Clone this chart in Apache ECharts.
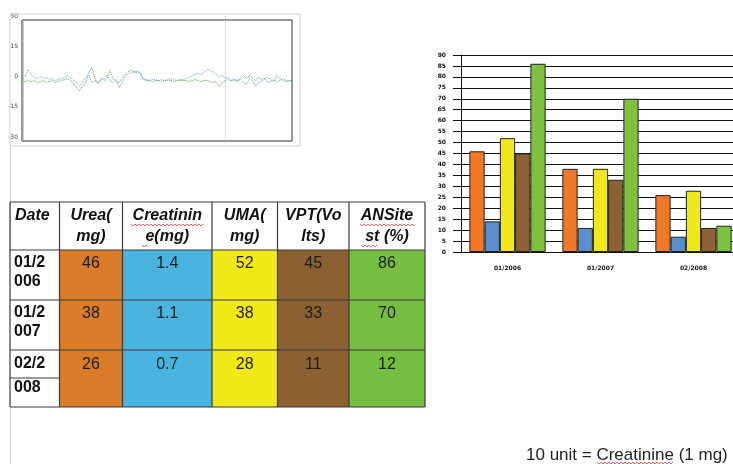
<!DOCTYPE html>
<html>
<head>
<meta charset="utf-8">
<script src="https://cdn.jsdelivr.net/npm/echarts@6/dist/echarts.min.js"></script>
<style>
html, body { margin: 0; padding: 0; background: #fff; }
#main { width: 733px; height: 464px; }
</style>
</head>
<body>
<div id="main"></div>
<script>
// table / bar data
var dates = ['01/2006', '01/2007', '02/2008'];
var urea = [46, 38, 26];
var creatinine = [1.4, 1.1, 0.7];
var uma = [52, 38, 28];
var vpt = [45, 33, 11];
var ansitest = [86, 70, 12];
var creatUnit = 10; // 10 unit = Creatinine (1 mg)
var headers = [['Date'], ['Urea(', 'mg)'], ['Creatinin', 'e(mg)'], ['UMA(', 'mg)'], ['VPT(Vo', 'lts)'], ['ANSite', 'st (%)']];
var barTicks = [0, 90, 5];

// small trace (top left), read point by point
var traceBlue = [
    -1, 0, 3.5, 1, -0.5, -1, 0, -1, -0.5, -1.5,
    -1, -2, -1.5, -1, -0.5, 0.5, -0.5, -2, -3, -4.5,
    -3, -0.5, 1, -3, -2, -3, -2, -1, 1, -2,
    -3, -1.5, -5.5, -3, 0, 1, 2, 2.5, 2, 1.5,
    -1.5, -1.5, -2, -1.5, -1.5, -2, -1.5, -2, -1.5, -1,
    -1.5, -2, -1.5, -1.5, -1, -0.5, 0.5, 1, 1.5, 1,
    2, 3.5, 3, 2, 1, 0, 0.5, -1, -0.5, -2,
    -1.5, -2, -1, -3, -4, -1, -2, -5, -3, -2.5,
    -1, -3, -2.5, -1.5, -3, -2, -1, -2, -2.5, -2
];
var traceGreen = [
    -2, -2.5, -2, -2.5, -2, -3, -2.5, -2, -3, -2.5,
    -2, -3, -2.5, -2, -1.5, -1, -2, -3.5, -5.5, -7,
    -5, -3, 2, 4.5, -1, -3.5, -1, -2, -1, 3,
    -1, -2.5, -3, -1, 1, 2.5, 3, 2, 2.5, 2,
    -1.5, -2, -2, -2.5, -2, -2, -2.5, -2, -2, -2,
    -2.5, -2, -2, -2, -2, -2.5, -2, -1.5, -2, -2.5,
    -2, -2, -2.5, -3, -2.5, -5, -3, -2, -1.5, -2,
    -1.5, -2.5, -1, 0.5, -1, 0.5, -1, -2, -0.5, -1.5,
    -1, -0.5, -1.5, -2.5, 0.5, -1, -2, -2.5, -2, -2
];
var traceTicks = [-30, 30, 15];
var markerIndex = 67;

var tableFill = ['#ffffff', '#DA7B27', '#48B4DF', '#F1E817', '#8C6131', '#76BE41'];
var barColor = ['#F07828', '#5A8ECE', '#F0E818', '#8C6235', '#7DC23F'];

var traceX = [];
for (var i = 0; i < traceBlue.length; i++) traceX.push(i);

var creatUnits = creatinine.map(function (v) { return Math.round(v * creatUnit); });
var barSets = [urea, creatUnits, uma, vpt, ansitest];

// ---- table drawn with graphic elements ----
var colX = [10, 59.5, 122.5, 212, 277.5, 349, 425];
var rowY = [202, 250, 300, 350, 407];
var headLineY = [216, 237];
var dateLineY = [[263, 282], [313, 332], [364, 388]];
var valueCols = [urea, creatinine, uma, vpt, ansitest];
var fontHead = 'italic bold 16px "Liberation Sans", Arial, sans-serif';
var fontDate = 'bold 16px "Liberation Sans", Arial, sans-serif';
var fontCell = '16px "Liberation Sans", Arial, sans-serif';

function squiggle(x0, x1, y) {
    var pts = [];
    for (var x = x0, k = 0; x <= x1; x += 2, k++) {
        pts.push([x, y + (k % 2 ? 1 : -1)]);
    }
    return {
        type: 'polyline', silent: true, z: 20,
        shape: { points: pts },
        style: { stroke: '#e23b3b', lineWidth: 0.8, fill: null }
    };
}

var els = [];
// page frame of the small trace, margin line
els.push({ type: 'rect', silent: true, z: 1, shape: { x: 10, y: 14, width: 290, height: 132 },
    style: { fill: null, stroke: '#cfcfcf', lineWidth: 1 } });
els.push({ type: 'line', silent: true, z: 1, shape: { x1: 10.5, y1: 146, x2: 10.5, y2: 464 },
    style: { stroke: '#d0d0d0', lineWidth: 1 } });
els.push({ type: 'rect', silent: true, z: 5, shape: { x: 22, y: 20, width: 270, height: 121 },
    style: { fill: null, stroke: '#333', lineWidth: 1 } });
els.push({ type: 'line', silent: true, z: 5, shape: { x1: 22.5, y1: 20, x2: 22.5, y2: 141 },
    style: { stroke: '#9a9a9a', lineWidth: 2 } });

// header row
for (var c = 0; c < headers.length; c++) {
    var x = c === 0 ? colX[0] + 5 : (colX[c] + colX[c + 1]) / 2;
    headers[c].forEach(function (t, li) {
        els.push({ type: 'text', silent: true, z: 10,
            style: { text: t, x: x, y: headLineY[li], font: fontHead, fill: '#111',
                textAlign: c === 0 ? 'left' : 'center', textVerticalAlign: 'middle' } });
    });
}
// body rows
for (var r = 0; r < dates.length; r++) {
    for (var c2 = 0; c2 < tableFill.length; c2++) {
        els.push({ type: 'rect', silent: true, z: 8,
            shape: { x: colX[c2], y: rowY[r + 1], width: colX[c2 + 1] - colX[c2], height: rowY[r + 2] - rowY[r + 1] },
            style: { fill: tableFill[c2] } });
    }
    var parts = [dates[r].slice(0, 4), dates[r].slice(4)];
    parts.forEach(function (t, li) {
        els.push({ type: 'text', silent: true, z: 10,
            style: { text: t, x: colX[0] + 4, y: dateLineY[r][li], font: fontDate, fill: '#111',
                textAlign: 'left', textVerticalAlign: 'middle' } });
    });
    valueCols.forEach(function (arr, vi) {
        var v = arr === creatinine ? arr[r].toFixed(1) : String(arr[r]);
        els.push({ type: 'text', silent: true, z: 10,
            style: { text: v, x: (colX[vi + 1] + colX[vi + 2]) / 2, y: dateLineY[r][0] + 1, font: fontCell,
                fill: '#1c1c1c', textAlign: 'center', textVerticalAlign: 'middle' } });
    });
}
// grid lines of the table
rowY.forEach(function (y) {
    els.push({ type: 'line', silent: true, z: 12, shape: { x1: colX[0], y1: y, x2: colX[colX.length - 1], y2: y },
        style: { stroke: '#3a3a3a', lineWidth: 1.2 } });
});
colX.forEach(function (x) {
    els.push({ type: 'line', silent: true, z: 12, shape: { x1: x, y1: rowY[0], x2: x, y2: rowY[rowY.length - 1] },
        style: { stroke: '#3a3a3a', lineWidth: 1.2 } });
});
els.push({ type: 'line', silent: true, z: 12, shape: { x1: colX[0], y1: 378, x2: colX[1], y2: 378 },
    style: { stroke: '#3a3a3a', lineWidth: 1 } });
els.push(squiggle(131, 203, 225));
els.push(squiggle(142, 149, 246));
els.push(squiggle(360, 414, 225));
els.push(squiggle(361, 377, 246));

// note under the bars
els.push({ type: 'text', silent: true, z: 10,
    style: { text: '10 unit = Creatinine (1 mg)', x: 526, y: 455, font: '17px "Liberation Sans", Arial, sans-serif',
        fill: '#222', textAlign: 'left', textVerticalAlign: 'middle' } });
els.push(squiggle(597, 673, 463));

var chart = echarts.init(document.getElementById('main'));

var barSeries = barSets.map(function (arr, k) {
    return {
        type: 'bar',
        xAxisIndex: 1,
        yAxisIndex: 1,
        data: arr,
        barGap: 0,
        barCategoryGap: '18%',
        itemStyle: { color: barColor[k], borderColor: '#222', borderWidth: 1 },
        silent: true
    };
});

option = {
    backgroundColor: '#fff',
    animation: false,
    grid: [{
        left: 22, top: 16, width: 270, height: 121,
        outerBoundsMode: 'none'
    }, {
        left: 461, top: 55, right: -7, height: 197,
        outerBoundsMode: 'none'
    }],
    xAxis: [{
        gridIndex: 0,
        type: 'category',
        data: traceX,
        boundaryGap: false,
        show: false
    }, {
        gridIndex: 1,
        type: 'category',
        data: dates,
        axisLine: { lineStyle: { color: '#111', width: 1 } },
        axisTick: { length: 6, lineStyle: { color: '#111', width: 1.5 } },
        axisLabel: { fontSize: 6, fontWeight: 'bold', color: '#111', margin: 13, interval: 0,
            fontFamily: 'DejaVu Sans' }
    }],
    yAxis: [{
        gridIndex: 0,
        type: 'value',
        min: traceTicks[0], max: traceTicks[1], interval: traceTicks[2],
        axisLine: { show: false },
        axisTick: { show: false },
        splitLine: { show: false },
        axisLabel: { fontSize: 6, color: '#444', margin: 4, fontFamily: 'DejaVu Sans' }
    }, {
        gridIndex: 1,
        type: 'value',
        min: barTicks[0], max: barTicks[1], interval: barTicks[2],
        axisLine: { show: true, lineStyle: { color: '#111', width: 1 } },
        axisTick: { show: true, length: 8, lineStyle: { color: '#111', width: 1 } },
        splitLine: { show: true, lineStyle: { color: '#111', width: 1 } },
        axisLabel: { fontSize: 6, fontWeight: 'bold', color: '#111', margin: 15, fontFamily: 'DejaVu Sans' }
    }],
    series: [{
        type: 'line',
        xAxisIndex: 0, yAxisIndex: 0,
        data: traceBlue,
        symbol: 'none',
        lineStyle: { color: '#6a9fe0', width: 1, type: 'dotted' },
        silent: true,
        z: 3,
        markLine: {
            silent: true,
            symbol: 'none',
            label: { show: false },
            lineStyle: { color: '#e8a8a8', type: 'dotted', width: 1 },
            data: [{ xAxis: markerIndex }]
        }
    }, {
        type: 'line',
        xAxisIndex: 0, yAxisIndex: 0,
        data: traceGreen,
        symbol: 'none',
        lineStyle: { color: '#4aa84a', width: 1, type: 'dotted' },
        silent: true,
        z: 2
    }].concat(barSeries),
    graphic: { elements: els }
};

chart.setOption(option);
</script>
</body>
</html>
